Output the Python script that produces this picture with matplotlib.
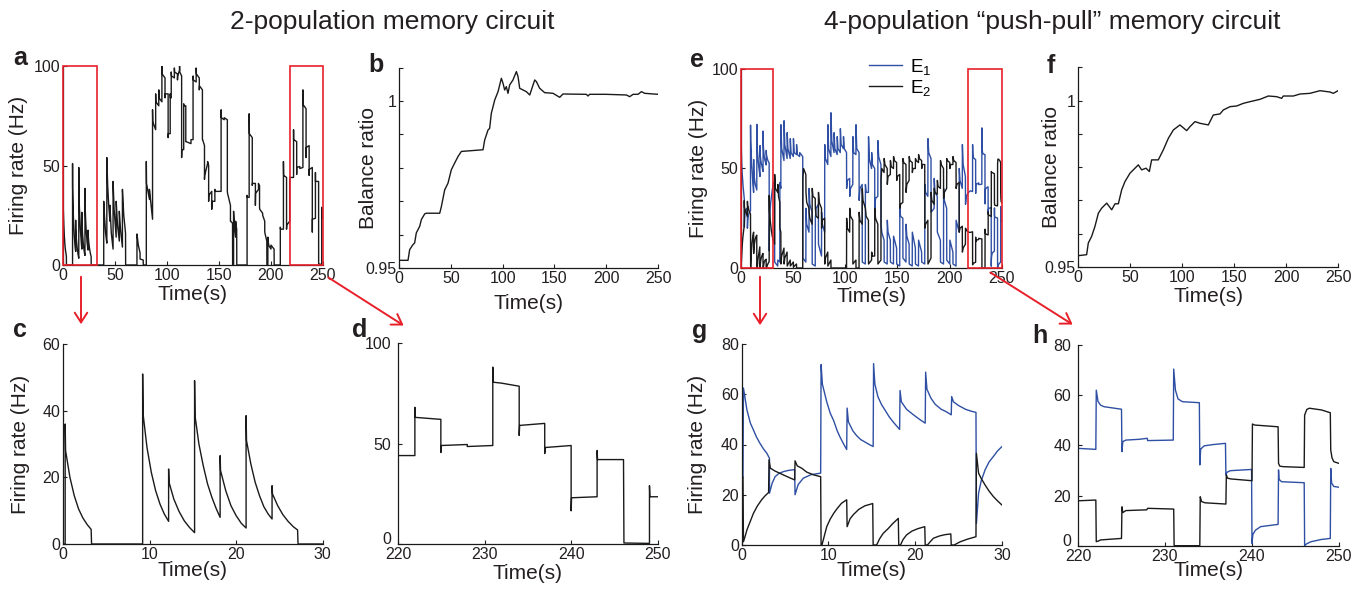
import numpy as np
import matplotlib
matplotlib.use("Agg")
import matplotlib.pyplot as plt
from matplotlib.patches import Rectangle, FancyArrowPatch

plt.rcParams['font.family'] = ['Liberation Sans', 'DejaVu Sans']
plt.rcParams['mathtext.fontset'] = 'custom'
plt.rcParams['mathtext.rm'] = 'Liberation Sans'
plt.rcParams['mathtext.it'] = 'Liberation Sans:italic'
plt.rcParams['mathtext.default'] = 'regular'

BLUE = '#2e4fa3'
BLACK = '#1a1a1a'
RED = '#e8202a'
TXT = '#231f20'

# ---- panel c: 2-pop firing rate, first 30 s (t, rate)
c_pts = [(0, 0), (0.25, 0), (0.25, 36), (0.3, 28), (0.8, 20), (1.3, 14.5), (1.8, 10.5),
         (2.3, 7.8), (2.8, 5.8), (3.25, 4.4), (3.3, 0), (9.2, 0), (9.2, 51), (9.25, 39),
         (9.7, 29), (10.2, 21.5), (10.7, 16), (11.2, 12), (11.7, 9), (12.2, 6.8), (12.2, 22.5),
         (12.25, 18.5), (12.8, 13.5), (13.4, 9.8), (14.0, 7), (14.6, 5), (15.2, 3.4), (15.2, 49),
         (15.25, 38.5), (15.7, 30), (16.2, 23.5), (16.7, 18), (17.2, 14), (17.7, 10.6),
         (18.15, 8), (18.15, 26.5), (18.2, 22), (18.8, 16), (19.4, 11.5), (20.0, 8.5),
         (20.6, 6.2), (21.15, 4.8), (21.15, 38.5), (21.2, 31), (21.7, 24), (22.2, 18.5),
         (22.7, 14.5), (23.2, 11.2), (23.7, 9), (24.15, 7.5), (24.15, 17.5), (24.2, 15),
         (24.8, 11.5), (25.4, 8.8), (26.0, 6.8), (26.6, 5.2), (27.1, 4.2), (27.15, 0), (30, 0)]

# ---- panel d: 2-pop firing rate, last 30 s
d_pts = [(220, 44), (221.95, 44), (221.95, 68), (222.0, 63), (224.95, 62), (224.95, 45.5),
         (225.0, 49), (228, 49.5), (228, 48.5), (230.95, 49), (230.95, 88), (231.0, 80.5),
         (232, 80), (234.0, 78.5), (234.0, 54), (234.05, 59), (236.95, 60), (236.95, 45),
         (237.0, 48), (240.0, 49), (240.0, 16.5), (240.05, 23), (243.0, 23.5), (243.0, 46.5),
         (243.05, 42), (246.05, 42), (246.1, 0.5), (249.05, 0.3), (249.05, 29), (249.1, 23.5),
         (250, 23.5)]

# ---- panel a: middle part (30-220 s)
a_mid = [(30, 0), (39.2, 0), (39.2, 32), (40, 24), (41, 16), (42.2, 11), (42.2, 54), (43, 40),
         (44, 30), (45.2, 22), (45.2, 30), (46.5, 16), (48.2, 8), (48.2, 42), (49.2, 28),
         (51.2, 14), (51.2, 32), (52.5, 20), (54.2, 12), (54.2, 27), (55.5, 17), (57.2, 9),
         (57.2, 38), (58.5, 25), (60.2, 16), (60.3, 0), (71.2, 0), (71.2, 15.6), (72.5, 10),
         (74.2, 6), (74.2, 3), (77.2, 2.5), (77.3, 0), (80.2, 0), (80.2, 52), (80.4, 41),
         (83.2, 33), (83.2, 38), (86.2, 23), (86.2, 78), (86.4, 72), (89.2, 68), (89.2, 86),
         (89.4, 82), (92.2, 80), (92.2, 88), (92.4, 84), (95.2, 82), (95.2, 100), (95.4, 96),
         (98.2, 94), (98.2, 84), (98.4, 86), (101.2, 86), (101.2, 64), (101.4, 66), (103.2, 66),
         (103.2, 86), (103.4, 84), (104.2, 84), (104.2, 97), (104.4, 95), (107.2, 94),
         (107.2, 99), (107.4, 97), (110.2, 96), (110.2, 93), (110.4, 95), (112.2, 98),
         (112.2, 100), (112.4, 97), (114.2, 95), (114.2, 54), (114.4, 58), (116.2, 58),
         (116.2, 81), (116.4, 80), (118.2, 80), (118.2, 62), (118.4, 62), (123.2, 61),
         (123.2, 63), (125.2, 63), (125.2, 95), (125.4, 93), (128.2, 92), (128.2, 99),
         (128.4, 96), (131.2, 94), (131.2, 88), (131.4, 90), (134.2, 88), (134.2, 63),
         (134.4, 63), (136.2, 60), (136.2, 43), (136.4, 45), (139.2, 51), (139.2, 52),
         (140.2, 50), (140.2, 32), (140.4, 35), (143.2, 37), (143.2, 28), (143.4, 32),
         (146.2, 32), (146.2, 38), (146.4, 37), (152.2, 37), (152.2, 78), (152.4, 74),
         (155.2, 73), (155.2, 74), (158.2, 73), (158.2, 37), (158.4, 36), (161.2, 30),
         (161.2, 22), (161.4, 22), (163.2, 21), (163.3, 0), (164.2, 0), (164.2, 27), (165, 20),
         (166.2, 14), (166.2, 22), (167.2, 18), (167.3, 0), (177.2, 0), (177.2, 35),
         (177.4, 34), (179.2, 34), (179.2, 76), (179.4, 66), (182.2, 64), (182.2, 40),
         (182.4, 41), (185.2, 41), (185.2, 30), (185.4, 36), (188.2, 38), (188.2, 41),
         (188.4, 40), (189.2, 40), (189.2, 29), (189.4, 28), (192.2, 26), (192.2, 25),
         (194.2, 22), (194.2, 17), (194.4, 16), (196.2, 12), (196.3, 0), (197.2, 0),
         (197.2, 14), (198, 10), (200.2, 8), (200.2, 10), (203.2, 8), (203.3, 0), (209.2, 0),
         (209.2, 19), (209.4, 18), (212.2, 18), (212.2, 52), (212.4, 45), (215.2, 44),
         (215.2, 18), (215.4, 20), (218.2, 22), (218.2, 42), (218.4, 44), (220, 44)]

# ---- panel b: balance ratio, 2-pop
b_pts = [(0, 0.9523), (8.7, 0.9523), (10.3, 0.9555), (13.5, 0.957), (15.1, 0.9575),
         (16.7, 0.9605), (20.0, 0.9625), (21.6, 0.9645), (24.8, 0.9662), (26.4, 0.9664),
         (39.3, 0.9664), (40.9, 0.9684), (44.1, 0.9734), (47.3, 0.9754), (50.5, 0.9794),
         (53.7, 0.9814), (57.0, 0.9834), (60.2, 0.9849), (81.1, 0.9854), (82.7, 0.9883),
         (85.9, 0.9913), (87.5, 0.9918), (89.1, 0.9963), (92.4, 1.0003), (95.6, 1.0028),
         (98.8, 1.0068), (100.4, 1.0053), (102.0, 1.0033), (103.6, 1.0043), (105.2, 1.0023),
         (106.8, 1.0048), (110.0, 1.0063), (113.3, 1.0088), (114.9, 1.0073), (116.5, 1.0038),
         (122.9, 1.0028), (126.2, 1.0018), (127.8, 1.0033), (131.0, 1.0063), (132.6, 1.0058),
         (135.8, 1.0038), (140.6, 1.0025), (148.7, 1.0023), (155.1, 1.0011), (158.3, 1.0021),
         (180.8, 1.002), (182.4, 1.0015), (184.0, 1.002), (200.0, 1.002), (219.5, 1.0018),
         (222.7, 1.0013), (226.0, 1.002), (230.7, 1.002), (234.0, 1.0028), (237.2, 1.0023),
         (250.0, 1.002)]

# ---- panel f: balance ratio, 4-pop
f_pts = [(0, 0.9534), (8.3, 0.9537), (9.9, 0.9572), (13.1, 0.9592), (16.3, 0.9622),
         (19.6, 0.9662), (22.8, 0.9677), (27.6, 0.9692), (32.4, 0.9672), (35.6, 0.969),
         (38.8, 0.969), (42.0, 0.9732), (45.2, 0.9757), (50.0, 0.9782), (54.8, 0.9797),
         (58.0, 0.9807), (61.2, 0.9792), (65.4, 0.9797), (68.6, 0.9787), (70.8, 0.9822),
         (77.2, 0.9822), (82.0, 0.9852), (86.9, 0.9887), (91.7, 0.9912), (98.0, 0.9927),
         (104.5, 0.991), (107.7, 0.9922), (112.5, 0.9937), (117.3, 0.9932), (125.3, 0.9927),
         (130.1, 0.9957), (136.5, 0.996), (139.7, 0.9972), (146.2, 0.9982), (152.6, 0.9984),
         (159.0, 0.9992), (165.4, 0.9997), (175.0, 1.0004), (183.0, 1.0014), (191.0, 1.0012),
         (195.8, 1.0007), (197.4, 1.0014), (207.0, 1.0014), (213.5, 1.002), (223.0, 1.0022),
         (232.7, 1.003), (242.3, 1.0026), (245.5, 1.0022), (250.0, 1.003)]

# ---- panel g: 4-pop, first 30 s
g_e1 = [(0, 27), (0.15, 27), (0.2, 62.5), (0.6, 53.8), (1.0, 48.5), (1.35, 45.8), (1.7, 43),
        (2.1, 40.5), (2.5, 38.3), (2.9, 36.5), (3.2, 34.5), (3.2, 20.6), (3.5, 24.5),
        (3.85, 27.2), (4.3, 28.5), (4.8, 29.2), (5.4, 29.7), (6.1, 30), (6.15, 20), (6.5, 24),
        (7.1, 26.6), (8.0, 28), (9.1, 28.6), (9.15, 71.8), (9.3, 64), (9.8, 57), (10.2, 52.5),
        (10.6, 49.5), (11.0, 45.5), (11.3, 43.2), (11.7, 40.5), (12.1, 38), (12.15, 54.5),
        (12.3, 49), (12.8, 45.5), (13.25, 43.5), (13.7, 42), (14.2, 41), (14.7, 40),
        (15.15, 39.2), (15.2, 72.2), (15.35, 64), (15.7, 59), (16.1, 56), (16.5, 53.8),
        (17.0, 51), (17.5, 48.8), (18.2, 46), (18.25, 61.5), (18.4, 57), (19.0, 54),
        (19.8, 51.8), (20.5, 50), (21.15, 48.5), (21.2, 68.8), (21.35, 62), (21.8, 58.5),
        (22.3, 56), (23.0, 54), (23.6, 53), (24.15, 51.8), (24.2, 59.1), (24.4, 57),
        (25.0, 55.5), (25.8, 54), (26.5, 53.2), (27.0, 52.8), (27.05, 8.6), (27.3, 20.6),
        (27.6, 25.5), (28.05, 29.9), (28.5, 33), (29.0, 35.2), (29.5, 37.5), (30.0, 39.2)]
g_e2 = [(0, 27), (0.15, 27), (0.2, 1.3), (0.4, 3.5), (0.6, 6), (1.0, 9.5), (1.35, 12.6),
        (1.8, 15.5), (2.3, 18), (2.7, 19.6), (3.1, 20.9), (3.15, 33.9), (3.3, 30.6),
        (3.8, 29.5), (4.8, 27.9), (5.5, 26.8), (6.1, 25.9), (6.15, 33.5), (6.4, 31.5),
        (6.9, 30.6), (7.5, 29), (8.3, 27.9), (9.1, 27.2), (9.15, 0), (9.25, 0), (9.8, 7.3),
        (10.2, 10.3), (10.6, 12.6), (11.0, 14.5), (11.5, 16.6), (12.1, 18), (12.15, 7.3),
        (12.5, 10.5), (12.9, 12.2), (13.5, 14.2), (14.2, 15.6), (15.1, 16.5), (15.15, 0),
        (15.55, 0), (15.9, 2.5), (16.3, 4.6), (16.9, 6.6), (17.4, 8.5), (18.05, 10.6),
        (18.1, 0), (18.3, 0), (18.6, 2.2), (19.0, 4), (19.6, 5.5), (20.3, 6.5), (21.1, 7.3),
        (21.15, 0), (21.4, 0), (21.7, 1.2), (22.1, 2.7), (22.8, 3.6), (23.4, 4.1), (24.1, 4.4),
        (24.15, 0), (24.5, 0), (24.8, 0.6), (25.2, 1.3), (26.0, 2.3), (27.0, 3.3),
        (27.05, 36.5), (27.3, 28.6), (27.6, 26.5), (28.05, 23.9), (28.5, 21.5), (29.0, 19.3),
        (29.5, 17.5), (30.0, 15.9)]

# ---- panel h: 4-pop, last 30 s
h_e1 = [(220, 38.8), (222.05, 38.4), (222.1, 62), (222.3, 57.5), (222.6, 56), (223.0, 55.4),
        (225.0, 54.4), (225.05, 37.5), (225.15, 41.5), (225.5, 42.1), (227.0, 42.4),
        (227.97, 42.8), (228.0, 41.9), (230.95, 42.1), (231.0, 70.4), (231.2, 62),
        (231.5, 58.5), (232.0, 57.4), (233.95, 57), (234.0, 32.2), (234.1, 38.5),
        (234.5, 39.8), (235.5, 40.3), (236.95, 40.8), (237.0, 28.2), (237.1, 29.2),
        (237.5, 29.9), (239.95, 30.4), (240.0, 0.9), (240.1, 4.5), (240.4, 6.2), (241.0, 7.6),
        (243.0, 8.5), (243.05, 30.2), (243.1, 26.5), (243.4, 25.5), (246.0, 25.1),
        (246.05, 0), (246.3, 0.8), (246.8, 1.6), (248.0, 2.5), (249.0, 2.9), (249.05, 30.8),
        (249.15, 25), (249.4, 23.6), (250.0, 23.3)]
h_e2 = [(220, 17.9), (222.05, 18.2), (222.1, 1.6), (222.3, 1.8), (222.6, 2.3), (225.0, 2.9),
        (225.05, 15.5), (225.15, 13.2), (225.5, 14.0), (227.9, 14.3), (228.0, 14.9),
        (231.0, 14.6), (231.05, 0), (234.0, 0), (234.05, 19.5), (234.2, 17.6), (234.6, 17.1),
        (237.0, 16.6), (237.05, 28.2), (237.2, 26.9), (237.6, 26.6), (240.0, 25.9),
        (240.05, 48.5), (240.3, 48.1), (243.0, 47.4), (243.05, 32.8), (243.2, 31.7),
        (243.6, 31.5), (246.0, 31.2), (246.05, 52.1), (246.3, 54.3), (246.6, 54.8),
        (248.0, 54.1), (249.0, 53.0), (249.05, 38.1), (249.2, 35), (249.4, 33.5), (250.0, 32.8)]

# ---- panel e: middle part (30-220 s)
e_mid_e1 = [(30.0, 39.2), (30.8, 42), (32.2, 44), (32.3, 3), (35.2, 1), (35.3, 4), (37.2, 3),
            (37.3, 43), (38.2, 40), (38.3, 72), (39.0, 60), (41.2, 54), (41.3, 74), (42.0, 62),
            (44.2, 55), (44.3, 68), (45.0, 60), (47.2, 55), (47.3, 65), (48.0, 58), (50.2, 56),
            (50.3, 65), (51.0, 58), (53.2, 57), (53.3, 62), (54.0, 57), (56.2, 56), (56.3, 58),
            (59.2, 56), (59.3, 5), (62.2, 3), (62.3, 30), (63.0, 22), (65.2, 18), (65.3, 40),
            (66.0, 32), (68.2, 28), (68.3, 2), (71.2, 1), (71.3, 25), (72.0, 30), (74.2, 32),
            (74.3, 12), (77.2, 6), (77.3, 28), (78.0, 22), (80.2, 18), (80.3, 62), (81.0, 55),
            (83.2, 52), (83.3, 72), (84.0, 60), (86.2, 56), (86.3, 78), (87.0, 64), (89.2, 58),
            (89.3, 68), (90.0, 60), (92.2, 57), (92.3, 66), (93.0, 60), (95.2, 58), (95.3, 70),
            (96.0, 62), (98.2, 60), (98.3, 66), (99.0, 60), (101.2, 58), (101.3, 40),
            (102.0, 44), (104.2, 45), (104.3, 36), (105.0, 40), (107.2, 42), (107.3, 66),
            (108.0, 58), (110.2, 57), (110.3, 72), (111.0, 60), (113.2, 58), (113.3, 34),
            (114.0, 40), (116.2, 42), (116.3, 3), (119.2, 2), (119.3, 42), (120.0, 38),
            (122.2, 38), (122.3, 66), (123.0, 55), (125.2, 50), (125.3, 58), (126.0, 52),
            (128.2, 50), (128.3, 30), (129.0, 35), (131.2, 36), (131.3, 64), (132.0, 56),
            (134.2, 52), (134.3, 22), (135.0, 18), (137.2, 14), (137.3, 3), (140.2, 2),
            (140.3, 24), (141.0, 18), (143.2, 14), (143.3, 3), (146.2, 2), (146.3, 16),
            (149.2, 10), (149.3, 2), (152.2, 1), (152.3, 30), (153.0, 26), (155.2, 25),
            (155.3, 5), (158.2, 3), (158.3, 22), (159.0, 16), (161.2, 12), (161.3, 2),
            (164.2, 1), (164.3, 18), (167.2, 10), (167.3, 2), (170.2, 1), (170.3, 14),
            (173.2, 8), (173.3, 3), (176.2, 2), (176.3, 42), (177.0, 38), (179.2, 36),
            (179.3, 65), (180.0, 58), (182.2, 55), (182.3, 28), (185.2, 30), (185.3, 45),
            (186.0, 38), (188.2, 36), (188.3, 18), (191.2, 14), (191.3, 3), (194.2, 2),
            (194.3, 40), (195.0, 34), (197.2, 30), (197.3, 4), (200.2, 2), (200.3, 14),
            (203.2, 8), (203.3, 2), (206.2, 1), (206.3, 24), (209.2, 18), (209.3, 50),
            (210.0, 44), (212.2, 40), (212.3, 62), (213.0, 52), (215.2, 46), (215.3, 32),
            (216.0, 36), (218.2, 38), (220.0, 38.8)]
e_mid_e2 = [(30.0, 15.9), (31.0, 14), (32.2, 12), (32.3, 47), (33.0, 40), (35.2, 38),
            (35.3, 42), (36.0, 36), (37.2, 33), (37.3, 20), (38.2, 18), (38.3, 2), (39.0, 6),
            (41.2, 10), (41.3, 2), (42.0, 5), (44.2, 8), (44.3, 1), (47.2, 4), (47.3, 1),
            (50.2, 3), (50.3, 0.5), (53.2, 2), (53.3, 0), (59.2, 0), (59.3, 45), (60.0, 50),
            (62.2, 47), (62.3, 38), (63.0, 33), (65.2, 30), (65.3, 28), (66.0, 25), (68.2, 22),
            (68.3, 40), (69.0, 36), (71.2, 35), (71.3, 30), (72.0, 26), (74.2, 25), (74.3, 38),
            (75.0, 33), (77.2, 30), (77.3, 20), (78.0, 24), (80.2, 25), (80.3, 2), (81.0, 5),
            (83.2, 8), (83.3, 1), (86.2, 4), (86.3, 0), (101.2, 0), (101.3, 25), (102.0, 20),
            (104.2, 18), (104.3, 30), (105.0, 26), (107.2, 24), (107.3, 2), (110.2, 4),
            (110.3, 0), (113.2, 0), (113.3, 28), (114.0, 24), (116.2, 22), (116.3, 40),
            (117.0, 34), (119.2, 30), (119.3, 30), (120.0, 26), (122.2, 24), (122.3, 2),
            (125.2, 4), (125.3, 8), (126.0, 6), (128.2, 6), (128.3, 30), (129.0, 25),
            (131.2, 22), (131.3, 2), (134.2, 4), (134.3, 45), (135.0, 50), (137.2, 48),
            (137.3, 55), (138.0, 52), (140.2, 50), (140.3, 42), (141.0, 46), (143.2, 47),
            (143.3, 54), (144.0, 51), (146.2, 50), (146.3, 56), (147.0, 54), (149.2, 53),
            (149.3, 44), (150.0, 46), (152.2, 47), (152.3, 30), (153.0, 32), (155.2, 33),
            (155.3, 55), (156.0, 53), (158.2, 52), (158.3, 38), (159.0, 42), (161.2, 44),
            (161.3, 56), (162.0, 54), (164.2, 53), (164.3, 48), (165.0, 50), (167.2, 50),
            (167.3, 55), (168.0, 54), (170.2, 53), (170.3, 57), (171.0, 55), (173.2, 54),
            (173.3, 50), (174.0, 52), (176.2, 52), (176.3, 20), (177.0, 22), (179.2, 24),
            (179.3, 2), (182.2, 5), (182.3, 38), (183.0, 34), (185.2, 32), (185.3, 40),
            (186.0, 38), (188.2, 37), (188.3, 44), (189.0, 41), (191.2, 40), (191.3, 54),
            (192.0, 52), (194.2, 50), (194.3, 35), (195.0, 38), (197.2, 40), (197.3, 55),
            (198.0, 54), (200.2, 53), (200.3, 50), (201.0, 52), (203.2, 52), (203.3, 56),
            (204.0, 54), (206.2, 53), (206.3, 40), (207.0, 42), (209.2, 43), (209.3, 18),
            (210.0, 20), (212.2, 21), (212.3, 8), (213.0, 10), (215.2, 12), (215.3, 20),
            (216.0, 19), (218.2, 18), (220.0, 17.9)]


def xy(pts):
    arr = np.array(pts, dtype=float)
    return arr[:, 0], arr[:, 1]


fig = plt.figure(figsize=(13.69, 5.94), dpi=100)
W, H = 1369.0, 594.0


def add_ax(x0, x1, ytop, ybot):
    return fig.add_axes([x0 / W, 1 - ybot / H, (x1 - x0) / W, (ybot - ytop) / H])


def style(ax, xlim, ylim, xticks, yticks, ylabels=None, ylab=None, ylab_x=-0.13, xlab_y=-0.09,
          ypad=2):
    for s in ['top', 'right']:
        ax.spines[s].set_visible(False)
    for s in ['left', 'bottom']:
        ax.spines[s].set_linewidth(0.9)
        ax.spines[s].set_color(BLACK)
    ax.set_xlim(*xlim)
    ax.set_ylim(*ylim)
    ax.set_xticks(xticks)
    ax.set_yticks(yticks)
    if ylabels is not None:
        ax.set_yticklabels(ylabels)
    ax.tick_params(direction='in', length=3, width=0.8, labelsize=11.5, colors=TXT)
    ax.tick_params(axis='x', pad=2.5)
    ax.tick_params(axis='y', pad=ypad)
    ax.set_xlabel('Time(s)', fontsize=15, color=TXT)
    ax.xaxis.set_label_coords(0.5, xlab_y)
    if ylab:
        ax.set_ylabel(ylab, fontsize=15, color=TXT)
        ax.yaxis.set_label_coords(ylab_x, 0.5)


lw = 1.0

# a
ax_a = add_ax(63, 322.7, 66, 265)
ta, ra = xy(c_pts + a_mid + d_pts)
ax_a.plot(ta, ra, color=BLACK, lw=lw)
style(ax_a, (0, 250), (0, 100), [0, 50, 100, 150, 200, 250], [0, 50, 100],
      ylab='Firing rate (Hz)', ylab_x=-0.135, xlab_y=-0.1)
for x0, w in [(0, 32.5), (219, 31)]:
    ax_a.add_patch(Rectangle((x0, 0), w, 100, fill=False, ec=RED, lw=1.2, clip_on=False, zorder=5))

# b
ax_b = add_ax(399, 658, 67.6, 268)
tb, vb = xy(b_pts)
ax_b.plot(tb, vb, color=BLACK, lw=lw)
style(ax_b, (0, 250), (0.95, 1.01), [0, 50, 100, 150, 200, 250],
      [0.95, 0.96, 0.97, 0.98, 0.99, 1.0, 1.01], ['0.95', '', '', '', '', '1', ''],
      ylab='Balance ratio', ylab_x=-0.08, xlab_y=-0.13)

# c
ax_c = add_ax(63, 322.7, 344, 544)
tc, rc = xy(c_pts)
ax_c.plot(tc, rc, color=BLACK, lw=lw)
style(ax_c, (0, 30), (0, 60), [0, 10, 20, 30], [0, 20, 40, 60],
      ylab='Firing rate (Hz)', ylab_x=-0.127, xlab_y=-0.085)

# d
ax_d = add_ax(398, 657.7, 343, 544)
td, rd = xy(d_pts)
ax_d.plot(td, rd, color=BLACK, lw=lw)
style(ax_d, (220, 250), (0, 100), [220, 230, 240, 250], [0, 50, 100], xlab_y=-0.1, ypad=5)
ax_d.yaxis.get_major_ticks()[0].label1.set_va('baseline')

# e
ax_e = add_ax(741, 1001.7, 69, 268)
te1, re1 = xy(g_e1 + e_mid_e1 + h_e1)
te2, re2 = xy(g_e2 + e_mid_e2 + h_e2)
ax_e.plot(te1, re1, color=BLUE, lw=lw, label='E$_1$')
ax_e.plot(te2, re2, color=BLACK, lw=lw, label='E$_2$')
style(ax_e, (0, 250), (0, 100), [0, 50, 100, 150, 200, 250], [0, 50, 100],
      ylab='Firing rate (Hz)', ylab_x=-0.127, xlab_y=-0.095)
for x0, w in [(0, 31), (218, 32)]:
    ax_e.add_patch(Rectangle((x0, 0), w, 100, fill=False, ec=RED, lw=1.2, clip_on=False, zorder=5))
ax_e.legend(loc='upper left', bbox_to_anchor=(0.49, 1.06), frameon=False, fontsize=13.5,
            handlelength=1.8, handletextpad=0.4, labelspacing=0.05, borderaxespad=0, borderpad=0)

# f
ax_f = add_ax(1078, 1338, 67.4, 267)
tf, vf = xy(f_pts)
ax_f.plot(tf, vf, color=BLACK, lw=lw)
style(ax_f, (0, 250), (0.95, 1.01), [0, 50, 100, 150, 200, 250],
      [0.95, 0.96, 0.97, 0.98, 0.99, 1.0, 1.01], ['0.95', '', '', '', '', '1', ''],
      ylab='Balance ratio', ylab_x=-0.065, xlab_y=-0.1)

# g
ax_g = add_ax(741.7, 1002, 344, 545)
tg1, rg1 = xy(g_e1)
tg2, rg2 = xy(g_e2)
ax_g.plot(tg1, rg1, color=BLUE, lw=lw)
ax_g.plot(tg2, rg2, color=BLACK, lw=lw)
style(ax_g, (0, 30), (0, 80), [0, 10, 20, 30], [0, 20, 40, 60, 80],
      ylab='Firing rate (Hz)', ylab_x=-0.133, xlab_y=-0.08)

# h
ax_h = add_ax(1078, 1339, 345, 545.7)
th1, rh1 = xy(h_e1)
th2, rh2 = xy(h_e2)
ax_h.plot(th1, rh1, color=BLUE, lw=lw)
ax_h.plot(th2, rh2, color=BLACK, lw=lw)
style(ax_h, (220, 250), (0, 80), [220, 230, 240, 250], [0, 20, 40, 60, 80], xlab_y=-0.077,
      ypad=5)
ax_h.yaxis.get_major_ticks()[0].label1.set_va('baseline')

# titles
fig.text(392 / W, 1 - 22 / H, '2-population memory circuit', fontsize=19, ha='center', va='center', color=TXT)
fig.text(1052 / W, 1 - 22 / H, '4-population \u201cpush-pull\u201d memory circuit', fontsize=19,
         ha='center', va='center', color=TXT)

# panel letters
for lab, x, y in [('a', 13, 65), ('b', 368, 72), ('c', 13, 337), ('d', 352, 337),
                  ('e', 690, 67), ('f', 1047, 73), ('g', 692, 338), ('h', 1032, 343)]:
    fig.text(x / W, 1 - y / H, lab, fontsize=18, fontweight='bold', ha='left', va='baseline', color=TXT)

# red zoom arrows
for (x0, y0), (x1, y1) in [((81, 274), (81, 327)), ((326, 276), (406, 327)),
                           ((760, 274), (760, 328)), ((988, 271), (1075, 326))]:
    fig.add_artist(FancyArrowPatch((x0 / W, 1 - y0 / H), (x1 / W, 1 - y1 / H),
                                   transform=fig.transFigure, arrowstyle='->,head_length=7,head_width=4.5',
                                   color=RED, lw=1.4, mutation_scale=1))

fig.savefig('out.png', dpi=100)
